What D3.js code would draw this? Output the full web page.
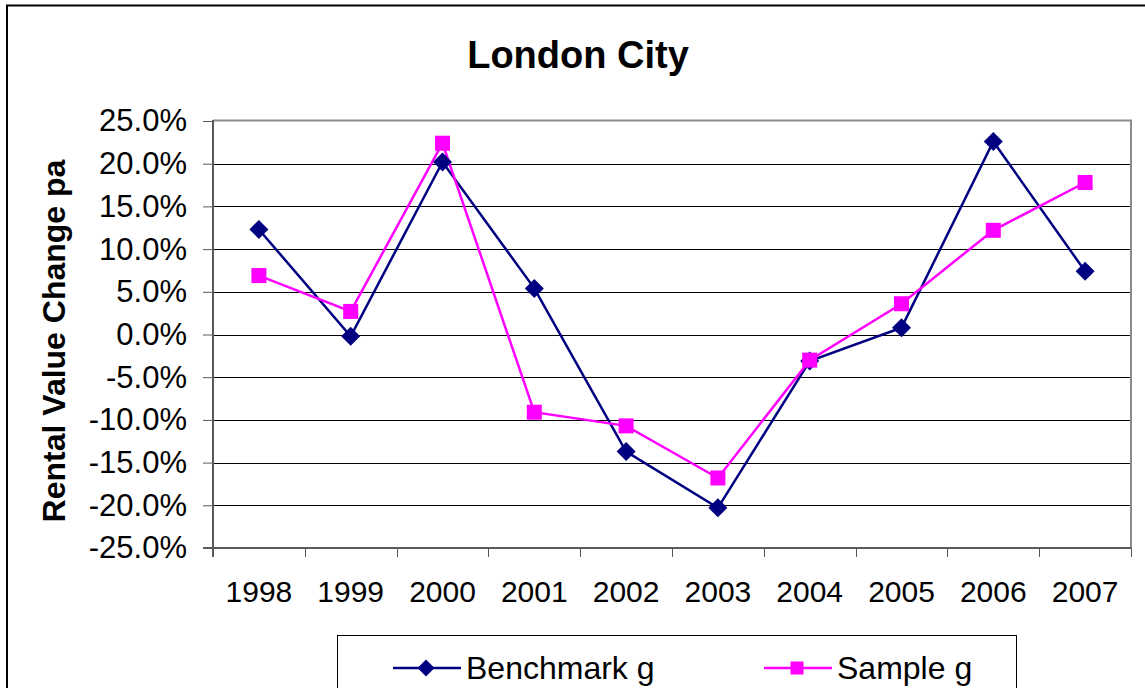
<!DOCTYPE html>
<html>
<head>
<meta charset="utf-8">
<script src="https://cdn.jsdelivr.net/npm/d3@7"></script>
<style>
  body { margin: 0; background: #fff; }
  svg { display: block; font-family: 'Liberation Sans', Arial, sans-serif; }
</style>
</head>
<body>
<svg id="chart" width="1145" height="688"></svg>
<script>
const years = ['1998', '1999', '2000', '2001', '2002', '2003', '2004', '2005', '2006', '2007'];

const benchmark = [12.3, -0.2, 20.2, 5.4, -13.7, -20.3, -3.1, 0.8, 22.6, 7.4];

const sample = [6.9, 2.7, 22.4, -9.1, -10.7, -16.8, -3.0, 3.6, 12.2, 17.8];

const yTicks = [25, 20, 15, 10, 5, 0, -5, -10, -15, -20, -25];

const seriesNames = ['Benchmark g', 'Sample g'];

const seriesColors = ['#000080', '#ff00ff'];

function drawMarker(sel, i, size) {
  if (i === 0) {
    const s = size / 2 + 2;
    sel.append('path')
      .attr('d', `M0,${-s}L${s},0L0,${s}L${-s},0Z`)
      .attr('fill', seriesColors[0]);
  } else {
    sel.append('rect')
      .attr('x', -size / 2)
      .attr('y', -size / 2)
      .attr('width', size)
      .attr('height', size)
      .attr('fill', seriesColors[1]);
  }
}

function createChart() {
  const svg = d3.select('#chart');
  const left = 213;
  const right = 1131;
  const top = 121;
  const bottom = 548;

  // outer frame
  svg.append('rect')
    .attr('x', 7)
    .attr('y', 5.5)
    .attr('width', 1160)
    .attr('height', 700)
    .attr('fill', 'none')
    .attr('stroke', '#000')
    .attr('stroke-width', 2);

  // title
  svg.append('text')
    .attr('x', 578)
    .attr('y', 68)
    .attr('text-anchor', 'middle')
    .attr('font-size', 38)
    .attr('font-weight', 'bold')
    .text('London City');

  const x = d3.scaleBand()
    .domain(years)
    .range([left, right]);

  const y = d3.scaleLinear()
    .domain([-25, 25])
    .range([bottom, top]);

  // gridlines
  svg.append('g')
    .selectAll('line')
    .data(yTicks.filter((d) => d !== 25 && d !== -25))
    .enter()
    .append('line')
    .attr('x1', left)
    .attr('x2', right)
    .attr('y1', (d) => Math.round(y(d)) + 0.5)
    .attr('y2', (d) => Math.round(y(d)) + 0.5)
    .attr('stroke', '#000')
    .attr('stroke-width', 1);

  // plot frame top / right
  svg.append('path')
    .attr('d', `M${left},${top - 0.5}H${right}V${bottom}`)
    .attr('fill', 'none')
    .attr('stroke', '#8c8c8c')
    .attr('stroke-width', 2);

  // y axis
  const yAxis = svg.append('g')
    .attr('transform', `translate(${left},0)`)
    .call(d3.axisLeft(y)
      .tickValues(yTicks)
      .tickSize(10)
      .tickPadding(16)
      .tickFormat((d) => `${d.toFixed(1)}%`));
  yAxis.select('.domain')
    .attr('stroke', '#595959')
    .attr('stroke-width', 2)
    .attr('d', `M0,${top - 1}V${bottom + 9}`);
  yAxis.selectAll('.tick line').attr('stroke', '#595959');
  yAxis.selectAll('text')
    .attr('font-size', 31)
    .attr('font-family', "'Liberation Sans', Arial, sans-serif")
    .attr('fill', '#000');

  // x axis, ticks between categories
  const xAxis = svg.append('g')
    .attr('transform', `translate(0,${bottom})`);
  xAxis.append('line')
    .attr('x1', left - 10)
    .attr('x2', right)
    .attr('stroke', '#595959')
    .attr('stroke-width', 2);
  xAxis.selectAll('.xtick')
    .data(years.concat(['end']))
    .enter()
    .append('line')
    .attr('class', 'xtick')
    .attr('x1', (d, i) => Math.round(left + i * x.step()) + 0.5)
    .attr('x2', (d, i) => Math.round(left + i * x.step()) + 0.5)
    .attr('y1', 0)
    .attr('y2', 9)
    .attr('stroke', '#595959');
  xAxis.selectAll('.xlabel')
    .data(years)
    .enter()
    .append('text')
    .attr('class', 'xlabel')
    .attr('x', (d) => x(d) + x.bandwidth() / 2)
    .attr('y', 54)
    .attr('text-anchor', 'middle')
    .attr('font-size', 30)
    .text((d) => d);

  // y title
  svg.append('text')
    .attr('transform', 'translate(65,341)rotate(-90)')
    .attr('text-anchor', 'middle')
    .attr('font-size', 32)
    .attr('font-weight', 'bold')
    .text('Rental Value Change pa');

  // series
  const line = d3.line()
    .x((d, i) => x(years[i]) + x.bandwidth() / 2)
    .y((d) => y(d));

  [benchmark, sample].forEach((values, s) => {
    svg.append('path')
      .datum(values)
      .attr('d', line)
      .attr('fill', 'none')
      .attr('stroke', seriesColors[s])
      .attr('stroke-width', 2.5);
  });

  [benchmark, sample].forEach((values, s) => {
    svg.append('g')
      .selectAll('g')
      .data(values)
      .enter()
      .append('g')
      .attr('transform', (d, i) => `translate(${x(years[i]) + x.bandwidth() / 2},${y(d)})`)
      .each(function() { drawMarker(d3.select(this), s, 15); });
  });

  // legend
  const legend = svg.append('g');
  legend.append('rect')
    .attr('x', 337.5)
    .attr('y', 635.5)
    .attr('width', 679)
    .attr('height', 80)
    .attr('fill', '#fff')
    .attr('stroke', '#000')
    .attr('stroke-width', 1);

  const legendX = [393, 764];
  seriesNames.forEach((name, i) => {
    const item = legend.append('g')
      .attr('transform', `translate(${legendX[i]},668)`);
    item.append('line')
      .attr('x1', 0)
      .attr('x2', 68)
      .attr('stroke', seriesColors[i])
      .attr('stroke-width', 2.5);
    const m = item.append('g').attr('transform', 'translate(33,0)');
    drawMarker(m, i, 13);
    item.append('text')
      .attr('x', 73)
      .attr('y', 11)
      .attr('font-size', 32)
      .text(name);
  });
}

document.addEventListener('DOMContentLoaded', () => {
  createChart();
});
</script>
</body>
</html>
